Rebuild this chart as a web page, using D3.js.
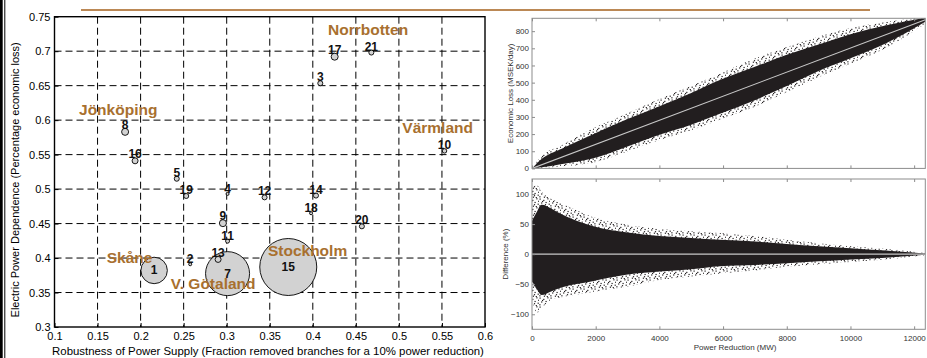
<!DOCTYPE html>
<html>
<head>
<meta charset="utf-8">
<script src="https://cdn.jsdelivr.net/npm/d3@7"></script>
<style>
  body { margin: 0; background: #fff; }
  svg { display: block; font-family: "Liberation Sans", Arial, Helvetica, sans-serif; }
</style>
</head>
<body>
<div id="chart"></div>
<script>
// ---- Bubble chart data (counties) ----
const countyIds = [1, 2, 3, 4, 5, 7, 8, 9, 10, 11, 12, 13, 14, 15, 16, 17, 18, 19, 20, 21];
const robustness = [0.2157, 0.2576, 0.4087, 0.301, 0.242, 0.301, 0.182, 0.2956, 0.553, 0.301,
                    0.344, 0.290, 0.4037, 0.3715, 0.1936, 0.4254, 0.398, 0.253, 0.457, 0.468];
const dependence = [0.382, 0.391, 0.6535, 0.493, 0.515, 0.3774, 0.583, 0.4506, 0.5554, 0.4245,
                    0.488, 0.398, 0.4906, 0.387, 0.541, 0.692, 0.465, 0.490, 0.446, 0.698];
const bubbleSize = [175, 2.3, 6.3, 2.3, 6.3, 484, 12.3, 12.3, 5, 4,
                    6.3, 9, 6.3, 812, 9, 12.3, 2.3, 6.3, 6.3, 6.3];
const insideLabel = [1, 7, 15];

const regionNames = ['Jönköping', 'Norrbotten', 'Värmland', 'Skåne', 'V. Götaland', 'Stockholm'];
const regionX = [0.1285, 0.4177, 0.504, 0.1607, 0.2351, 0.3479];
const regionY = [0.6075, 0.7239, 0.5819, 0.3926, 0.3549, 0.4032];

const bubbleXTicks = [0.1, 0.15, 0.2, 0.25, 0.3, 0.35, 0.4, 0.45, 0.5, 0.55, 0.6];
const bubbleYTicks = [0.3, 0.35, 0.4, 0.45, 0.5, 0.55, 0.6, 0.65, 0.7, 0.75];

// ---- Scatter cloud envelopes ----
const lossMW     = [0, 300, 900, 1900, 3000, 4000, 5000, 5900, 7000, 8000, 9000, 10000, 11100, 12350];
const lossCoreHi = [0, 55, 112, 198, 288, 363, 440, 515, 592, 662, 722, 782, 833, 878];
const lossCoreLo = [0, 6, 24, 58, 128, 196, 255, 318, 398, 480, 568, 642, 728, 855];
const lossOutHi  = [0, 72, 132, 232, 322, 405, 482, 552, 640, 708, 768, 818, 853, 880];
const lossOutLo  = [0, 0, 12, 32, 100, 165, 222, 285, 360, 445, 532, 610, 700, 845];
const lossFitMW  = [0, 12350];
const lossFit    = [0, 866];

const diffMW     = [0, 150, 300, 600, 900, 1900, 3000, 4000, 5000, 5900, 7000, 8000, 9000, 10000, 11100, 12350];
const diffCoreHi = [55, 70, 82, 76, 67, 47, 36, 30, 27, 24, 21, 17, 13, 10, 6, 1];
const diffCoreLo = [-45, -58, -68, -62, -56, -45, -34, -29, -25, -20, -18, -15, -12, -9, -6, -1];
const diffOutHi  = [112, 115, 104, 92, 85, 62, 49, 42, 38, 35, 30, 24, 18, 13, 9, 2];
const diffOutLo  = [-72, -98, -90, -76, -72, -63, -54, -43, -37, -32, -27, -21, -17, -13, -9, -2];

const powerTicks = [0, 2000, 4000, 6000, 8000, 10000, 12000];
const lossTicks = [0, 100, 200, 300, 400, 500, 600, 700, 800];
const diffTicks = [-100, -50, 0, 50, 100];

// ---- Constants ----
const WIDTH = 927;
const HEIGHT = 358;
const BROWN = '#a8702f';
const CLOUD = '#221e1f';

const svg = d3.select('#chart')
  .append('svg')
  .attr('width', WIDTH)
  .attr('height', HEIGHT);

// speckle pattern for the sparse edge of the point clouds
const defs = svg.append('defs');
const speckle = defs.append('pattern')
  .attr('id', 'speckle')
  .attr('width', 11)
  .attr('height', 9)
  .attr('patternUnits', 'userSpaceOnUse');
[[0.5, 0.5], [4.2, 1.8], [8.3, 0.2], [2.1, 4.4], [6.5, 3.9], [9.6, 5.6],
 [0.3, 7.2], [4.8, 7.6], [7.7, 8.0], [3.0, 2.9], [10.1, 2.7], [5.9, 6.1]].forEach(([px, py]) => {
  speckle.append('rect').attr('x', px).attr('y', py)
    .attr('width', 1.2).attr('height', 1.2).attr('fill', CLOUD);
});

// frame on the left edge and top rule
svg.append('rect').attr('x', 0).attr('y', 0).attr('width', 2.7).attr('height', HEIGHT).attr('fill', '#000');
svg.append('line').attr('x1', 4.8).attr('x2', 4.8).attr('y1', 0).attr('y2', HEIGHT)
  .attr('stroke', '#000').attr('stroke-width', 1);
svg.append('line').attr('x1', 81).attr('x2', 870).attr('y1', 10).attr('y2', 10)
  .attr('stroke', '#a5601c').attr('stroke-width', 1.5);

// ================= Left: bubble chart =================
const B = { left: 54.5, right: 485, top: 16.7, bottom: 327 };
const x = d3.scaleLinear().domain([0.1, 0.6]).range([B.left, B.right]);
const y = d3.scaleLinear().domain([0.3, 0.75]).range([B.bottom, B.top]);
const r = d3.scaleSqrt().domain([0, 812]).range([0, 28.5]);

const bubble = svg.append('g');

// dashed grid
bubble.append('g')
  .selectAll('line')
  .data(bubbleXTicks.slice(1, -1))
  .join('line')
  .attr('x1', d => x(d)).attr('x2', d => x(d))
  .attr('y1', B.top).attr('y2', B.bottom)
  .attr('stroke', '#000').attr('stroke-width', 1).attr('stroke-dasharray', '7,4');
bubble.append('g')
  .selectAll('line')
  .data(bubbleYTicks.slice(1, -1))
  .join('line')
  .attr('x1', B.left).attr('x2', B.right)
  .attr('y1', d => y(d)).attr('y2', d => y(d))
  .attr('stroke', '#000').attr('stroke-width', 1).attr('stroke-dasharray', '7,4');

// axes
const bx = bubble.append('g')
  .attr('transform', `translate(0,${B.bottom})`)
  .call(d3.axisBottom(x).tickValues(bubbleXTicks).tickFormat(d => d).tickSizeInner(-4).tickSizeOuter(0).tickPadding(5));
const by = bubble.append('g')
  .attr('transform', `translate(${B.left},0)`)
  .call(d3.axisLeft(y).tickValues(bubbleYTicks).tickFormat(d => d).tickSizeInner(-4).tickSizeOuter(0).tickPadding(4));
[bx, by].forEach(g => {
  g.select('.domain').remove();
  g.selectAll('text').attr('font-size', 11).attr('fill', '#000').attr('font-family', null);
  g.selectAll('line').attr('stroke', '#000');
});

bubble.append('rect')
  .attr('x', B.left).attr('y', B.top)
  .attr('width', B.right - B.left).attr('height', B.bottom - B.top)
  .attr('fill', 'none').attr('stroke', '#000').attr('stroke-width', 1.4);

// bubbles
const counties = countyIds.map((id, i) => ({
  id, x: robustness[i], y: dependence[i], size: bubbleSize[i]
}));
const sortedCounties = counties.slice().sort((a, b) => b.size - a.size);

bubble.append('g')
  .selectAll('circle')
  .data(sortedCounties)
  .join('circle')
  .attr('cx', d => x(d.x))
  .attr('cy', d => y(d.y))
  .attr('r', d => r(d.size))
  .attr('fill', '#d2d2d2')
  .attr('stroke', '#000')
  .attr('stroke-width', 0.9);

bubble.append('g')
  .selectAll('text')
  .data(counties)
  .join('text')
  .attr('x', d => x(d.x))
  .attr('y', d => insideLabel.includes(d.id) ? y(d.y) : y(d.y) - r(d.size) + 0.5)
  .attr('dominant-baseline', d => insideLabel.includes(d.id) ? 'central' : 'auto')
  .attr('text-anchor', 'middle')
  .attr('font-size', 12)
  .attr('font-weight', 'bold')
  .attr('fill', '#111')
  .text(d => d.id);

// region names
bubble.append('g')
  .selectAll('text')
  .data(regionNames)
  .join('text')
  .attr('x', (d, i) => x(regionX[i]))
  .attr('y', (d, i) => y(regionY[i]))
  .attr('font-size', 15.5)
  .attr('font-weight', 'bold')
  .attr('fill', BROWN)
  .text(d => d);

// axis titles
bubble.append('text')
  .attr('transform', `translate(15,${(B.top + B.bottom) / 2 + 8}) rotate(-90)`)
  .attr('text-anchor', 'middle')
  .attr('dominant-baseline', 'central')
  .attr('font-size', 11)
  .text('Electric Power Dependence (Percentage economic loss)');
bubble.append('text')
  .attr('x', 268)
  .attr('y', 355)
  .attr('text-anchor', 'middle')
  .attr('font-size', 11.4)
  .text('Robustness of Power Supply (Fraction removed branches for a 10% power reduction)');

// ================= Right: scatter clouds =================
const xR = d3.scaleLinear().domain([0, 12350]).range([532, 925.3]);
const P1 = { top: 18.3, bottom: 168.4 };
const P2 = { top: 179, bottom: 329.3 };
const yLoss = d3.scaleLinear().domain([0, 875]).range([P1.bottom, P1.top]);
const yDiff = d3.scaleLinear().domain([-125, 125]).range([P2.bottom, P2.top]);

function drawCloud(id, P, yScale, mw, outLo, outHi, coreLo, coreHi, fitX, fitY, yTicks, label, labelX, showX) {
  defs.append('clipPath').attr('id', id)
    .append('rect').attr('x', xR.range()[0]).attr('y', P.top)
    .attr('width', xR.range()[1] - xR.range()[0]).attr('height', P.bottom - P.top);

  const g = svg.append('g');
  const plot = g.append('g').attr('clip-path', `url(#${id})`);

  const area = (lo, hi) => d3.area()
    .x((d, i) => xR(mw[i]))
    .y0((d, i) => yScale(lo[i]))
    .y1((d, i) => yScale(hi[i]))
    .curve(d3.curveMonotoneX)(mw);

  plot.append('path').attr('d', area(outLo, outHi)).attr('fill', 'url(#speckle)');
  plot.append('path').attr('d', area(coreLo, coreHi)).attr('fill', CLOUD);

  plot.append('path')
    .attr('d', d3.line().x((d, i) => xR(fitX[i])).y((d, i) => yScale(fitY[i]))(fitX))
    .attr('fill', 'none')
    .attr('stroke', '#c8c8c8')
    .attr('stroke-width', 1.1);

  // frame and ticks
  g.append('rect')
    .attr('x', xR.range()[0]).attr('y', P.top)
    .attr('width', xR.range()[1] - xR.range()[0]).attr('height', P.bottom - P.top)
    .attr('fill', 'none').attr('stroke', '#8c8c8c').attr('stroke-width', 1);

  const top = g.append('g').attr('transform', `translate(0,${P.top})`)
    .call(d3.axisTop(xR).tickValues(powerTicks).tickSizeInner(-3).tickSizeOuter(0).tickFormat(''));
  const bottom = g.append('g').attr('transform', `translate(0,${P.bottom})`)
    .call(d3.axisBottom(xR).tickValues(powerTicks).tickSizeInner(-3).tickSizeOuter(0).tickPadding(6)
      .tickFormat(showX ? d3.format('d') : ''));
  const left = g.append('g').attr('transform', `translate(${xR.range()[0]},0)`)
    .call(d3.axisLeft(yScale).tickValues(yTicks).tickSizeInner(-3).tickSizeOuter(0).tickPadding(3));

  [top, bottom, left].forEach(a => {
    a.select('.domain').remove();
    a.selectAll('line').attr('stroke', '#8c8c8c');
    a.selectAll('text').attr('font-size', 8).attr('fill', '#333').attr('font-family', null);
  });

  g.append('text')
    .attr('transform', `translate(${labelX},${(P.top + P.bottom) / 2}) rotate(-90)`)
    .attr('text-anchor', 'middle')
    .attr('dominant-baseline', 'central')
    .attr('font-size', 8)
    .attr('fill', '#333')
    .text(label);
}

drawCloud('clipLoss', P1, yLoss, lossMW, lossOutLo, lossOutHi, lossCoreLo, lossCoreHi,
  lossFitMW, lossFit, lossTicks, 'Economic Loss (MSEK/day)', 510.5, false);
drawCloud('clipDiff', P2, yDiff, diffMW, diffOutLo, diffOutHi, diffCoreLo, diffCoreHi,
  [0, 12350], [0, 0], diffTicks, 'Difference (%)', 505.5, true);

svg.append('text')
  .attr('x', 735)
  .attr('y', 350)
  .attr('text-anchor', 'middle')
  .attr('font-size', 8)
  .attr('fill', '#333')
  .text('Power Reduction (MW)');
</script>
</body>
</html>
